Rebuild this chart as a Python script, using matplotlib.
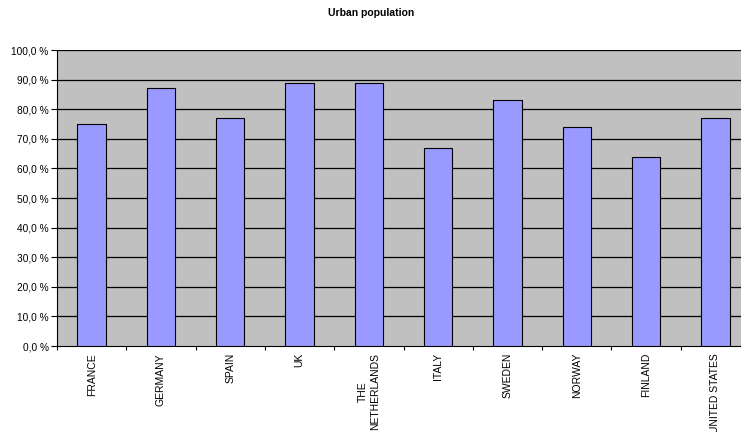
import numpy as np
import matplotlib
matplotlib.use("Agg")
import matplotlib.pyplot as plt

countries = ['FRANCE', 'GERMANY', 'SPAIN', 'UK', 'THE\nNETHERLANDS', 'ITALY',
             'SWEDEN', 'NORWAY', 'FINLAND', 'UNITED STATES']
urban = [75, 87, 77, 89, 89, 67, 83, 74, 64, 77]
yticks = np.arange(0, 101, 10)

plt.rcParams['font.family'] = ['Liberation Sans', 'DejaVu Sans']

fig = plt.figure(figsize=(7.41, 4.32), dpi=100)
ax = fig.add_axes([57/741, 1 - 346/432, 693/741, 296/432])
ax.set_facecolor('#c0c0c0')

x = np.arange(len(countries))
ax.bar(x, urban, width=0.41, color='#9999ff', edgecolor='black', linewidth=0.8, zorder=3)

ax.set_xlim(-0.5, len(countries) - 0.5)
ax.set_ylim(0, 100)
ax.set_yticks(yticks)
ax.set_yticklabels([('%.1f %%' % v).replace('.', ',') for v in yticks])
for v in yticks[1:]:
    ax.axhline(v, color='black', linewidth=0.9, zorder=1)

ax.set_xticks(x)
ax.set_xticklabels(countries, rotation=90, ha='center', va='top', multialignment='center')
ax.set_xticks(np.arange(-0.5, len(countries)), minor=True)
ax.tick_params(axis='x', which='major', length=0, pad=5, labelsize=7.5)
ax.tick_params(axis='x', which='minor', length=3, width=0.8, color='black')
ax.tick_params(axis='y', length=4, width=0.8, labelsize=7.3, pad=2)

for s in ['top', 'right']:
    ax.spines[s].set_visible(False)
ax.spines['left'].set_color('black')
ax.spines['bottom'].set_color('black')

fig.text(0.5 + 0.2/741, 1 - 13/432, 'Urban population', ha='center', va='center',
         fontsize=7.5, fontweight='bold')

fig.savefig('out.png', dpi=100)
